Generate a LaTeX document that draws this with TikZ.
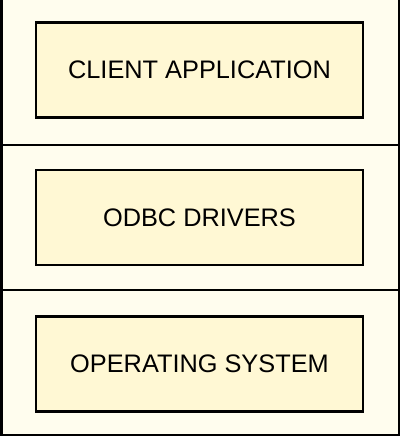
\documentclass[tikz,border=0pt]{standalone}
\usepackage{fontspec}
\setmainfont{Liberation Sans}
\definecolor{paper}{HTML}{FFFDEE}
\definecolor{layerfill}{HTML}{FFF8D4}
\tikzset{
    layer/.style={draw=black,line width=1.9pt,fill=layerfill,
        minimum width=245pt,minimum height=71pt,inner sep=0pt,
        font=\fontsize{19}{22}\selectfont},
    rule/.style={line width=1.5pt}
}

\begin{document}
\begin{tikzpicture}[x=0.75pt,y=0.75pt]
    \useasboundingbox (0,0) rectangle (400,436);
    \fill[paper] (0,0) rectangle (400,436);
    \draw[rule] (1.5,436)--(1.5,1)--(398.8,1)--(398.8,436);
    \draw[rule] (0,291)--(400,291);
    \draw[rule] (0,146)--(400,146);
    \node[layer] (client) at (199.5,366) {CLIENT APPLICATION};
    \node[layer] (odbc) at (199.5,218.5) {ODBC DRIVERS};
    \node[layer] (os) at (199.5,72) {OPERATING SYSTEM};
\end{tikzpicture}
\end{document}
